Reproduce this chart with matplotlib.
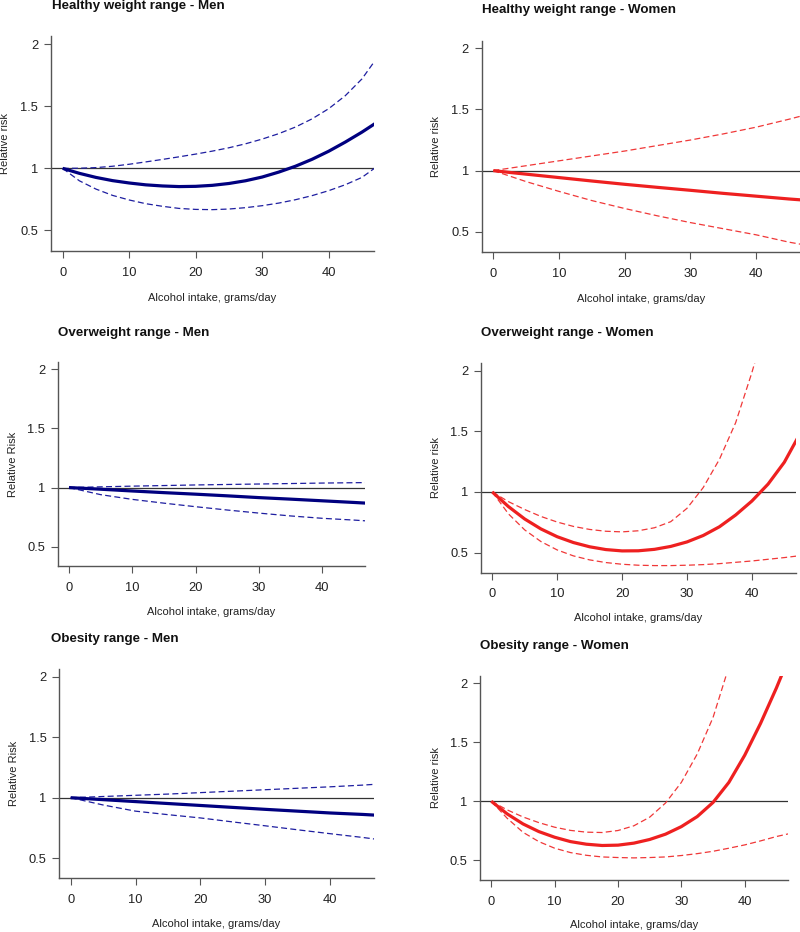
import matplotlib
matplotlib.use("Agg")
import matplotlib.pyplot as plt

plt.rcParams['font.family'] = ['Liberation Sans', 'DejaVu Sans']

# ---------------- data ----------------
X_CURVE = [0, 2.5, 5, 7.5, 10, 12.5, 15, 17.5, 20, 22.5, 25, 27.5, 30, 32.5, 35, 37.5, 40, 42.5, 45, 47]
X_LINEAR = [0, 2.5, 5, 10, 15, 20, 25, 30, 35, 40, 45, 47]

X_TICKS = [0, 10, 20, 30, 40]
Y_TICKS = [0.5, 1, 1.5, 2]
Y_TICK_LABELS = ["0.5", "1", "1.5", "2"]

TITLES = ["Healthy weight range - Men", "Healthy weight range - Women",
          "Overweight range - Men", "Overweight range - Women",
          "Obesity range - Men", "Obesity range - Women"]
Y_LABELS = ["Relative risk", "Relative risk", "Relative Risk",
            "Relative risk", "Relative Risk", "Relative risk"]
X_LABEL = "Alcohol intake, grams/day"

# Healthy weight - Men
hm_rr = [1, 0.960, 0.927, 0.901, 0.882, 0.867, 0.858, 0.853, 0.855, 0.863, 0.878, 0.900,
         0.930, 0.970, 1.017, 1.073, 1.138, 1.212, 1.292, 1.362]
hm_up = [1, 1.001, 1.006, 1.017, 1.033, 1.052, 1.072, 1.093, 1.115, 1.139, 1.166, 1.198,
         1.236, 1.280, 1.333, 1.399, 1.481, 1.586, 1.721, 1.871]
hm_lo = [1, 0.900, 0.833, 0.782, 0.745, 0.715, 0.694, 0.677, 0.669, 0.667, 0.672, 0.683,
         0.699, 0.720, 0.747, 0.780, 0.820, 0.868, 0.927, 1.005]

# Healthy weight - Women
hw_rr = [1, 0.985, 0.971, 0.943, 0.915, 0.888, 0.863, 0.839, 0.814, 0.791, 0.768, 0.760]
hw_up = [1, 1.020, 1.040, 1.080, 1.120, 1.160, 1.205, 1.250, 1.300, 1.355, 1.420, 1.448]
hw_lo = [1, 0.955, 0.910, 0.830, 0.755, 0.690, 0.630, 0.575, 0.525, 0.475, 0.415, 0.396]

# Overweight - Men
om_rr = [1, 0.993, 0.986, 0.971, 0.957, 0.944, 0.930, 0.915, 0.902, 0.888, 0.874, 0.868]
om_up = [1, 1.003, 1.006, 1.012, 1.017, 1.022, 1.026, 1.030, 1.034, 1.038, 1.041, 1.042]
om_lo = [1, 0.970, 0.940, 0.900, 0.868, 0.838, 0.810, 0.784, 0.760, 0.740, 0.725, 0.718]

# Overweight - Women
ow_rr = [1, 0.879, 0.777, 0.695, 0.631, 0.583, 0.548, 0.525, 0.514, 0.515, 0.527, 0.551,
         0.588, 0.641, 0.713, 0.810, 0.925, 1.065, 1.245, 1.440]
ow_up_x = [0, 2.5, 5, 7.5, 10, 12.5, 15, 17.5, 20, 22.5, 25, 27.5, 30, 32.5, 35, 37.5, 40, 41]
ow_up = [1, 0.920, 0.855, 0.798, 0.752, 0.716, 0.691, 0.676, 0.671, 0.680, 0.705, 0.755,
         0.865, 1.036, 1.269, 1.571, 1.984, 2.170]
ow_lo = [1, 0.819, 0.687, 0.591, 0.522, 0.473, 0.440, 0.418, 0.404, 0.396, 0.393, 0.393,
         0.396, 0.401, 0.409, 0.420, 0.431, 0.445, 0.459, 0.472]

# Obesity - Men
bm_rr = [1, 0.992, 0.984, 0.968, 0.952, 0.936, 0.920, 0.904, 0.889, 0.874, 0.862, 0.856]
bm_up = [1, 1.005, 1.010, 1.020, 1.030, 1.042, 1.054, 1.066, 1.078, 1.090, 1.104, 1.111]
bm_lo = [1, 0.970, 0.940, 0.889, 0.860, 0.833, 0.800, 0.768, 0.735, 0.703, 0.672, 0.658]

# Obesity - Women
bw_rr_x = [0, 2.5, 5, 7.5, 10, 12.5, 15, 17.5, 20, 22.5, 25, 27.5, 30, 32.5, 35, 37.5, 40, 42.5, 45, 46]
bw_rr = [1, 0.893, 0.808, 0.743, 0.695, 0.658, 0.636, 0.625, 0.628, 0.645, 0.676, 0.721,
         0.785, 0.870, 0.990, 1.160, 1.390, 1.660, 1.960, 2.090]
bw_up_x = [0, 2.5, 5, 7.5, 10, 12.5, 15, 17.5, 20, 22.5, 25, 27.5, 30, 32.5, 35, 37.5]
bw_up = [1, 0.927, 0.867, 0.819, 0.780, 0.753, 0.738, 0.735, 0.752, 0.792, 0.865, 0.985,
         1.160, 1.400, 1.710, 2.140]
bw_lo = [1, 0.856, 0.737, 0.658, 0.602, 0.565, 0.542, 0.528, 0.523, 0.520, 0.523, 0.528,
         0.540, 0.556, 0.576, 0.602, 0.630, 0.664, 0.701, 0.725]

SERIES = [
    ((X_CURVE, hm_rr), (X_CURVE, hm_up), (X_CURVE, hm_lo)),
    ((X_LINEAR, hw_rr), (X_LINEAR, hw_up), (X_LINEAR, hw_lo)),
    ((X_LINEAR, om_rr), (X_LINEAR, om_up), (X_LINEAR, om_lo)),
    ((X_CURVE, ow_rr), (ow_up_x, ow_up), (X_CURVE, ow_lo)),
    ((X_LINEAR, bm_rr), (X_LINEAR, bm_up), (X_LINEAR, bm_lo)),
    ((bw_rr_x, bw_rr), (bw_up_x, bw_up), (X_CURVE, bw_lo)),
]

# ---------------- layout (pixels) ----------------
W, H = 800, 932
# left, top, right, bottom, title_x, title_y, ylabel_x, xlabel_y
LAYOUT = [
    (50.7, 36.4, 373.9, 250.7, 51.7, 6.0, 5.5, 298.3),
    (481.5, 40.5, 800.7, 251.8, 481.7, 10.0, 435.5, 299.0),
    (57.6, 361.7, 365.4, 566.1, 57.7, 332.7, 13.0, 611.7),
    (480.6, 362.9, 796.0, 572.5, 481.0, 333.3, 435.5, 618.0),
    (59.0, 668.9, 374.1, 878.1, 51.0, 639.0, 14.0, 924.3),
    (479.9, 675.7, 787.8, 879.6, 480.0, 646.0, 435.5, 925.0),
]
COLORS = ["navy", "red", "navy", "red", "navy", "red"]
PALETTE = {"navy": ("#00007F", "#1E1EA0"), "red": ("#EE2020", "#F03838")}

fig = plt.figure(figsize=(W / 100, H / 100), dpi=100)

for i, (lay, ser) in enumerate(zip(LAYOUT, SERIES)):
    l, t, r, b, tx, ty, ylx, xly = lay
    ax = fig.add_axes([l / W, 1 - b / H, (r - l) / W, (b - t) / H])
    ax.set_xlim(-1.8, 46.8)
    ax.set_ylim(0.336, 2.064)
    for s in ("top", "right"):
        ax.spines[s].set_visible(False)
    for s in ("left", "bottom"):
        ax.spines[s].set_color("#555555")
        ax.spines[s].set_linewidth(1.0)
    ax.set_xticks(X_TICKS)
    ax.set_yticks(Y_TICKS)
    ax.set_yticklabels(Y_TICK_LABELS)
    ax.tick_params(axis="both", direction="out", length=5, width=0.8,
                   color="#555555", labelsize=9.3, labelcolor="#222222")
    ax.tick_params(axis="y", pad=4.0)
    ax.tick_params(axis="x", pad=6.5)

    ax.axhline(1, color="#333333", lw=0.9, zorder=1)
    solid_c, dash_c = PALETTE[COLORS[i]]
    (xr, yr), (xu, yu), (xl, yl) = ser
    ax.plot(xu, yu, color=dash_c, lw=0.9, dashes=(4.8, 2.6), zorder=2)
    ax.plot(xl, yl, color=dash_c, lw=0.9, dashes=(4.8, 2.6), zorder=2)
    ax.plot(xr, yr, color=solid_c, lw=2.3, zorder=3, solid_capstyle="butt",
            solid_joinstyle="round")

    fig.text(tx / W, 1 - ty / H, TITLES[i], fontsize=9.6, fontweight="bold",
             ha="left", va="center", color="#111111")
    fig.text(ylx / W, 1 - ((t + b) / 2) / H, Y_LABELS[i], fontsize=8,
             rotation=90, ha="center", va="center", color="#222222")
    fig.text(((l + r) / 2) / W, 1 - xly / H, X_LABEL, fontsize=8,
             ha="center", va="center", color="#222222")

fig.savefig("out.png", dpi=100)
